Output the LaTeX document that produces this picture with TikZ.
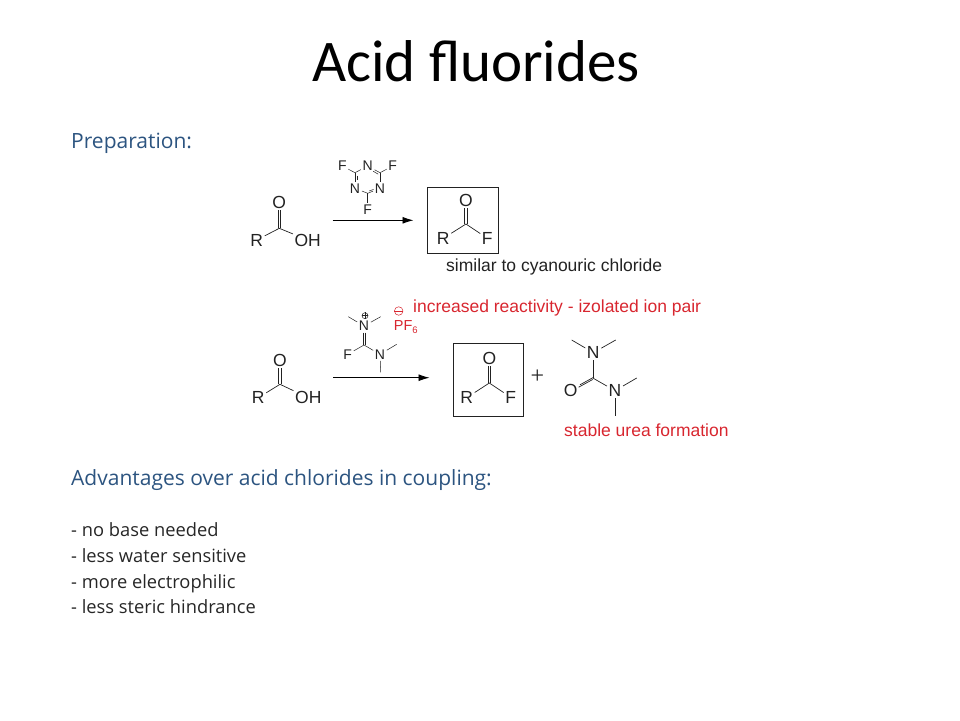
\documentclass[tikz,border=0pt]{standalone}
\usepackage{fontspec}
\setmainfont{Liberation Sans}
\newfontfamily\titlefont{Carlito}
\newfontfamily\bodyfont{Open Sans}
\newfontfamily\plusfont{Liberation Serif}
\usetikzlibrary{arrows.meta}
\definecolor{headblue}{HTML}{2C5480}
\definecolor{bodygrey}{HTML}{262626}
\definecolor{chemred}{HTML}{D8262F}
\definecolor{inkgrey}{HTML}{222222}
\tikzset{
  titletext/.style={anchor=base,inner sep=0,font=\titlefont\fontsize{59}{70}\selectfont,text=black},
  headtext/.style={anchor=base west,inner sep=0,font=\bodyfont\fontsize{21}{25}\selectfont,text=headblue},
  listtext/.style={anchor=base west,inner sep=0,font=\bodyfont\fontsize{18.3}{22}\selectfont,text=bodygrey},
  redtext/.style={anchor=base west,inner sep=0,font=\fontsize{17.5}{21}\selectfont,text=chemred},
  noteblack/.style={anchor=base west,inner sep=0,font=\fontsize{17.5}{21}\selectfont,text=inkgrey},
  atom/.style={inner sep=1.5pt,font=\fontsize{17.5}{19}\selectfont,text=inkgrey},
  smallatom/.style={inner sep=1.6pt,font=\fontsize{14}{16}\selectfont,text=inkgrey},
  bond/.style={draw=inkgrey,line width=0.7pt},
  sbond/.style={draw=inkgrey,line width=0.5pt},
  rxn/.style={draw=black,line width=0.9pt,-{Latex[length=11pt,width=7pt]}},
  framebox/.style={draw=inkgrey,line width=0.8pt,inner sep=0,fill=none},
}
\begin{document}
\begin{tikzpicture}[x=1pt,y=-1pt]
\useasboundingbox (0,0) rectangle (960,720);
\node[titletext] (title) at (476,81) {Acid fluorides};
\node[headtext] (prep) at (71,148.3) {Preparation:};
\node[headtext] (adv) at (71,485.3) {Advantages over acid chlorides in coupling:};
\node[listtext] (l1) at (71,536) {- no base needed};
\node[listtext] (l2) at (71,562) {- less water sensitive};
\node[listtext] (l3) at (71,588) {- more electrophilic};
\node[listtext] (l4) at (71,613.5) {- less steric hindrance};

% first acid
\coordinate (c1) at (279.3,228.3);
\node[atom] (o1) at (279.3,202) {O};
\node[atom] (r1) at (256.7,240) {R};
\node[atom] (oh1) at (307.7,240) {OH};
\draw[bond] ([xshift=-1.3pt]c1) -- ([xshift=-1.3pt]o1.south);
\draw[bond] ([xshift=1.3pt]c1) -- ([xshift=1.3pt]o1.south);
\draw[bond] (r1) -- (c1) -- (oh1);

% arrow 1 and triazine
\coordinate (a1s) at (332.7,220.3);
\coordinate (a1e) at (413.5,220.3);
\draw[rxn] (a1s) -- (a1e);
\node[smallatom] (f1) at (342.3,166) {F};
\node[smallatom] (n1) at (367.7,166) {N};
\node[smallatom] (f2) at (392.7,166) {F};
\node[smallatom] (n2) at (355,188.3) {N};
\node[smallatom] (n3) at (380,188.3) {N};
\node[smallatom] (f3) at (367.7,210) {F};
\coordinate (t1) at (355,172.7);
\coordinate (t2) at (380,172.7);
\coordinate (t3) at (367.7,193.3);
\coordinate (d1a) at (373.2,171.2);
\coordinate (d1b) at (378.2,174.2);
\coordinate (d2a) at (373.6,189.4);
\coordinate (d2b) at (369.2,191);
\coordinate (d3a) at (357.2,175.6);
\coordinate (d3b) at (357.2,180.4);
\draw[sbond] (f1) -- (t1);
\draw[sbond] (t1) -- (n1);
\draw[sbond] (n1) -- (t2);
\draw[sbond] (d1a) -- (d1b);
\draw[sbond] (t2) -- (f2);
\draw[sbond] (t2) -- (n3);
\draw[sbond] (n3) -- (t3);
\draw[sbond] (d2a) -- (d2b);
\draw[sbond] (t3) -- (n2);
\draw[sbond] (n2) -- (t1);
\draw[sbond] (d3a) -- (d3b);
\draw[sbond] (t3) -- (f3);

% boxed product 1
\coordinate (b1a) at (427.7,187.3);
\coordinate (b1b) at (498.3,253.3);
\draw[framebox] (b1a) rectangle (b1b);
\coordinate (c2) at (466,224);
\node[atom] (o2) at (466,200) {O};
\node[atom] (r2) at (443.3,238.3) {R};
\node[atom] (f4) at (487.3,238.3) {F};
\draw[bond] ([xshift=-1.3pt]c2) -- ([xshift=-1.3pt]o2.south);
\draw[bond] ([xshift=1.3pt]c2) -- ([xshift=1.3pt]o2.south);
\draw[bond] (r2) -- (c2) -- (f4);
\node[noteblack] (sim) at (446,271.3) {similar to cyanouric chloride};

% second acid
\coordinate (c3) at (280,384.3);
\node[atom] (o3) at (280,360) {O};
\node[atom] (r3) at (258.3,397.7) {R};
\node[atom] (oh3) at (308.3,397.7) {OH};
\draw[bond] ([xshift=-1.3pt]c3) -- ([xshift=-1.3pt]o3.south);
\draw[bond] ([xshift=1.3pt]c3) -- ([xshift=1.3pt]o3.south);
\draw[bond] (r3) -- (c3) -- (oh3);

% arrow 2 and reagent
\coordinate (a2s) at (333.3,377.7);
\coordinate (a2e) at (429.5,377.7);
\draw[rxn] (a2s) -- (a2e);
\node[smallatom] (np) at (364,326) {N};
\node[smallatom] (fr) at (347.7,354.3) {F};
\node[smallatom] (nr) at (380,354.3) {N};
\coordinate (cr) at (364,345);
\coordinate (m1) at (348.3,316.7);
\coordinate (m2) at (380.7,316.7);
\coordinate (m3) at (396.7,344.3);
\coordinate (m4) at (380.7,372.3);
\draw[sbond] (m1) -- (np) -- (m2);
\draw[sbond] ([xshift=-1.1pt]np.south) -- ([xshift=-1.1pt]cr);
\draw[sbond] ([xshift=1.1pt]np.south) -- ([xshift=1.1pt]cr);
\draw[sbond] (fr) -- (cr);
\draw[sbond] (cr) -- (nr);
\draw[sbond] (nr) -- (m3);
\draw[sbond] (nr) -- (m4);
\node[draw=inkgrey,circle,line width=0.5pt,minimum size=6pt,inner sep=0] (plusc) at (365,315.7) {};
\draw[draw=inkgrey,line width=0.6pt] (plusc.west) -- (plusc.east) (plusc.north) -- (plusc.south);
\node[draw=chemred,circle,line width=0.5pt,minimum size=8.5pt,inner sep=0] (minc) at (398.7,311) {};
\draw[draw=chemred,line width=0.6pt] (minc.west) -- (minc.east);
\node[redtext,font=\fontsize{14.5}{16}\selectfont] (pf) at (393.7,330.5) {PF\raisebox{-2.5pt}{\fontsize{9.5}{10}\selectfont 6}};
\node[redtext] (inc) at (413,312.3) {increased reactivity - izolated ion pair};

% boxed product 2
\coordinate (b2a) at (453.3,343.3);
\coordinate (b2b) at (523.3,416);
\draw[framebox] (b2a) rectangle (b2b);
\coordinate (c4) at (489.3,383);
\node[atom] (o4) at (489.3,358.3) {O};
\node[atom] (r4) at (466.7,397.7) {R};
\node[atom] (f5) at (510.7,397.3) {F};
\draw[bond] ([xshift=-1.3pt]c4) -- ([xshift=-1.3pt]o4.south);
\draw[bond] ([xshift=1.3pt]c4) -- ([xshift=1.3pt]o4.south);
\draw[bond] (r4) -- (c4) -- (f5);

\node[inner sep=0,text=inkgrey,font=\plusfont\fontsize{24}{26}\selectfont] (plus) at (537.3,376.7) {+};

% urea
\coordinate (cu) at (593.3,378.3);
\node[atom] (n4) at (593.3,352.7) {N};
\node[atom] (o5) at (570.7,390.7) {O};
\node[atom] (n5) at (615,390.7) {N};
\coordinate (u1) at (571.7,340);
\coordinate (u2) at (615.7,340);
\coordinate (u3) at (636.7,378);
\coordinate (u4) at (615,416);
\coordinate (oe) at (579.3,386);
\draw[bond] (u1) -- (n4) -- (u2);
\draw[bond] (n4) -- (cu);
\draw[bond] (cu) -- (n5);
\draw[bond] ([shift={(-0.65pt,-1.2pt)}]cu) -- ([shift={(-0.65pt,-1.2pt)}]oe);
\draw[bond] ([shift={(0.65pt,1.2pt)}]cu) -- ([shift={(0.65pt,1.2pt)}]oe);
\draw[bond] (n5) -- (u3);
\draw[bond] (n5) -- (u4);
\node[redtext] (urea) at (564,436.3) {stable urea formation};
\end{tikzpicture}
\end{document}
